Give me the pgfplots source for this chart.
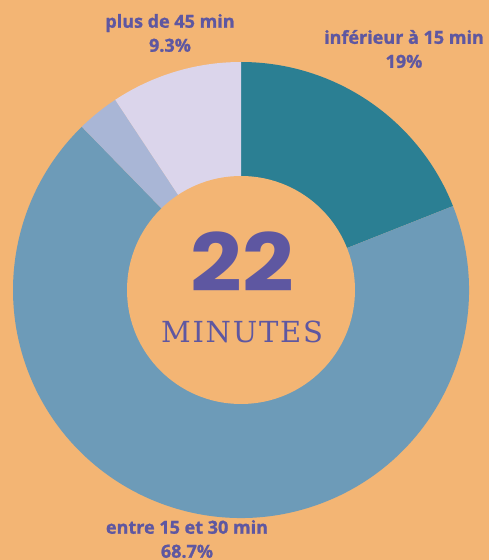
\documentclass[border=0pt]{standalone}
\usepackage{pgfplots}
\pgfplotsset{compat=1.18}
\usepackage{fontspec}
\setmainfont{Open Sans}
\newfontfamily\lblfont[FakeBold=1.2]{Open Sans Bold}
\newfontfamily\numfont{Poppins}
\newfontfamily\slabfont[LetterSpace=6]{DejaVu Serif}

\definecolor{bg}{HTML}{F3B574}
\definecolor{tealseg}{HTML}{2B7F93}
\definecolor{blueseg}{HTML}{6D9BB8}
\definecolor{greyseg}{HTML}{A9B6D6}
\definecolor{lavseg}{HTML}{DBD5EB}
\definecolor{txt}{HTML}{5E57A1}

% shares in percent, clockwise from the top
\def\vA{19}     % inferieur a 15 min
\def\vB{68.7}   % entre 15 et 30 min
\def\vC{3.0}    % 30 a 45 min
\def\vD{9.3}    % plus de 45 min

\pgfmathsetmacro\aA{90}
\pgfmathsetmacro\aB{\aA-3.6*\vA}
\pgfmathsetmacro\aC{\aB-3.6*\vB}
\pgfmathsetmacro\aD{\aC-3.6*\vC}
\pgfmathsetmacro\aE{\aD-3.6*\vD}

\newcommand\slice[3]{%
  \fill[#3] (axis cs:241,270) -- ++(#1:228pt) arc[start angle=#1,end angle=#2,radius=228pt] -- cycle;}

\begin{document}
\begin{tikzpicture}
\begin{axis}[
  scale only axis,
  width=489pt, height=560pt,
  xmin=0, xmax=489, ymin=0, ymax=560,
  hide axis,
  clip=false,
]
\fill[bg] (axis cs:0,0) rectangle (axis cs:489,560);
\slice{\aA}{\aB}{tealseg}
\slice{\aB}{\aC}{blueseg}
\slice{\aC}{\aD}{greyseg}
\slice{\aD}{\aE}{lavseg}
\fill[bg] (axis cs:241,270) circle[radius=114pt];

\node[text=txt,font=\numfont\bfseries\fontsize{80}{80}\selectfont] at (axis cs:242,298) {\scalebox{1.13}[1]{22}};
\node[text=txt,font=\slabfont\fontsize{29}{29}\selectfont] at (axis cs:242,228) {MINUTES};

\node[text=txt,font=\lblfont\fontsize{18}{24}\selectfont,align=center] at (axis cs:170,527) {plus de 45 min\\9.3\%};
\node[text=txt,font=\lblfont\fontsize{18}{24}\selectfont,align=center] at (axis cs:404,511) {inférieur à 15 min\\19\%};
\node[text=txt,font=\lblfont\fontsize{18}{24}\selectfont,align=center] at (axis cs:187,21) {entre 15 et 30 min\\68.7\%};
\end{axis}
\pgfresetboundingbox
\useasboundingbox (0,0) rectangle (489pt,560pt);
\end{tikzpicture}
\end{document}
